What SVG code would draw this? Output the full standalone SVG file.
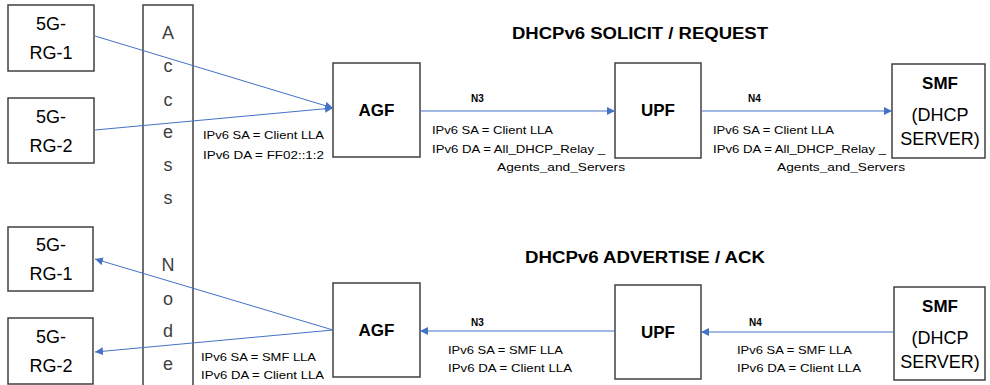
<svg xmlns="http://www.w3.org/2000/svg" width="990" height="385" viewBox="0 0 990 385">
<defs>
<marker id="ah" viewBox="0 0 10 10" refX="10" refY="5" markerWidth="8" markerHeight="8" markerUnits="userSpaceOnUse" orient="auto">
<path d="M0,0 L10,5 L0,10 z" fill="#4472C4"/>
</marker>
<style>
.box{fill:#fff;stroke:#404040;stroke-width:1.5}
.t{font-family:"Liberation Sans",Arial,sans-serif;fill:#000;text-anchor:middle}
.n{font-size:18px}
.b{font-size:17px;font-weight:bold}
.l{font-family:"Liberation Sans",Arial,sans-serif;font-size:11px;fill:#000}
.lb{font-family:"Liberation Sans",Arial,sans-serif;font-size:10px;font-weight:bold;fill:#000}
.an{font-family:"Liberation Sans",Arial,sans-serif;font-size:18px;fill:#404040;text-anchor:middle}
.h{font-family:"Liberation Sans",Arial,sans-serif;font-size:16px;font-weight:bold;fill:#000}
.c{stroke:#4472C4;stroke-width:1;fill:none;marker-end:url(#ah)}
</style>
</defs>
<rect width="990" height="385" fill="#fff"/>

<g id="access-node">
<rect class="box" x="143" y="5" width="50" height="385"/>
<text class="an" x="168" y="39">A</text>
<text class="an" x="168" y="72">c</text>
<text class="an" x="168" y="106">c</text>
<text class="an" x="168" y="138">e</text>
<text class="an" x="168" y="171">s</text>
<text class="an" x="168" y="204">s</text>
<text class="an" x="168" y="271">N</text>
<text class="an" x="168" y="305">o</text>
<text class="an" x="168" y="337">d</text>
<text class="an" x="168" y="370">e</text>
</g>

<g id="rg1-top">
<rect class="box" x="8" y="5" width="86" height="66"/>
<text class="t n" x="51" y="30">5G-</text>
<text class="t n" x="51" y="59">RG-1</text>
</g>
<g id="rg2-top">
<rect class="box" x="8" y="98" width="86" height="65"/>
<text class="t n" x="51" y="123">5G-</text>
<text class="t n" x="51" y="152">RG-2</text>
</g>
<g id="agf-top">
<rect class="box" x="333" y="63" width="87" height="94"/>
<text class="t b" x="376.5" y="116">AGF</text>
</g>
<g id="upf-top">
<rect class="box" x="615" y="63" width="86" height="95"/>
<text class="t b" x="658" y="116">UPF</text>
</g>
<g id="smf-top">
<rect class="box" x="892" y="64" width="93" height="94"/>
<text class="t b" x="940" y="89">SMF</text>
<text class="t n" x="940" y="121">(DHCP</text>
<text class="t n" x="940" y="145">SERVER)</text>
</g>

<g id="rg1-bottom">
<rect class="box" x="8" y="227" width="85" height="64"/>
<text class="t n" x="51" y="251">5G-</text>
<text class="t n" x="51" y="280">RG-1</text>
</g>
<g id="rg2-bottom">
<rect class="box" x="8" y="318" width="85" height="66"/>
<text class="t n" x="51" y="343">5G-</text>
<text class="t n" x="51" y="372">RG-2</text>
</g>
<g id="agf-bottom">
<rect class="box" x="333" y="283" width="87" height="94"/>
<text class="t b" x="376.5" y="336">AGF</text>
</g>
<g id="upf-bottom">
<rect class="box" x="615" y="285" width="86" height="94"/>
<text class="t b" x="658" y="338">UPF</text>
</g>
<g id="smf-bottom">
<rect class="box" x="894" y="287" width="91" height="93"/>
<text class="t b" x="940" y="312">SMF</text>
<text class="t n" x="940" y="344">(DHCP</text>
<text class="t n" x="940" y="368">SERVER)</text>
</g>

<g id="connectors">
<line class="c" x1="95" y1="36" x2="333" y2="108"/>
<line class="c" x1="95" y1="130" x2="333" y2="108"/>
<line class="c" x1="420" y1="111" x2="615" y2="111"/>
<line class="c" x1="702" y1="111" x2="892" y2="111"/>
<line class="c" x1="333" y1="330" x2="95" y2="259"/>
<line class="c" x1="333" y1="330" x2="95" y2="352"/>
<line class="c" x1="615" y1="331" x2="420" y2="331"/>
<line class="c" x1="894" y1="332" x2="701" y2="332"/>
</g>

<g id="labels">
<text class="h" x="512" y="39" textLength="256" lengthAdjust="spacingAndGlyphs">DHCPv6 SOLICIT / REQUEST</text>
<text class="h" x="525" y="263" textLength="240" lengthAdjust="spacingAndGlyphs">DHCPv6 ADVERTISE / ACK</text>

<text class="l" x="203" y="139" textLength="121" lengthAdjust="spacingAndGlyphs">IPv6 SA = Client LLA</text>
<text class="l" x="203" y="159" textLength="121" lengthAdjust="spacingAndGlyphs">IPv6 DA = FF02::1:2</text>

<text class="lb" x="471" y="102">N3</text>
<text class="l" x="432" y="134" textLength="121" lengthAdjust="spacingAndGlyphs">IPv6 SA = Client LLA</text>
<text class="l" x="432" y="153" textLength="173" lengthAdjust="spacingAndGlyphs">IPv6 DA = All_DHCP_Relay _</text>
<text class="l" x="497" y="171" textLength="128" lengthAdjust="spacingAndGlyphs">Agents_and_Servers</text>

<text class="lb" x="748" y="102">N4</text>
<text class="l" x="713" y="134" textLength="121" lengthAdjust="spacingAndGlyphs">IPv6 SA = Client LLA</text>
<text class="l" x="713" y="153" textLength="173" lengthAdjust="spacingAndGlyphs">IPv6 DA = All_DHCP_Relay _</text>
<text class="l" x="777" y="171" textLength="128" lengthAdjust="spacingAndGlyphs">Agents_and_Servers</text>

<text class="l" x="201" y="361" textLength="115" lengthAdjust="spacingAndGlyphs">IPv6 SA = SMF LLA</text>
<text class="l" x="201" y="379" textLength="123" lengthAdjust="spacingAndGlyphs">IPv6 DA = Client  LLA</text>

<text class="lb" x="471" y="326">N3</text>
<text class="l" x="448" y="354" textLength="115" lengthAdjust="spacingAndGlyphs">IPv6 SA = SMF LLA</text>
<text class="l" x="448" y="372" textLength="124" lengthAdjust="spacingAndGlyphs">IPv6 DA = Client  LLA</text>

<text class="lb" x="749" y="326">N4</text>
<text class="l" x="737" y="354" textLength="115" lengthAdjust="spacingAndGlyphs">IPv6 SA = SMF LLA</text>
<text class="l" x="737" y="372" textLength="124" lengthAdjust="spacingAndGlyphs">IPv6 DA = Client  LLA</text>
</g>
</svg>
